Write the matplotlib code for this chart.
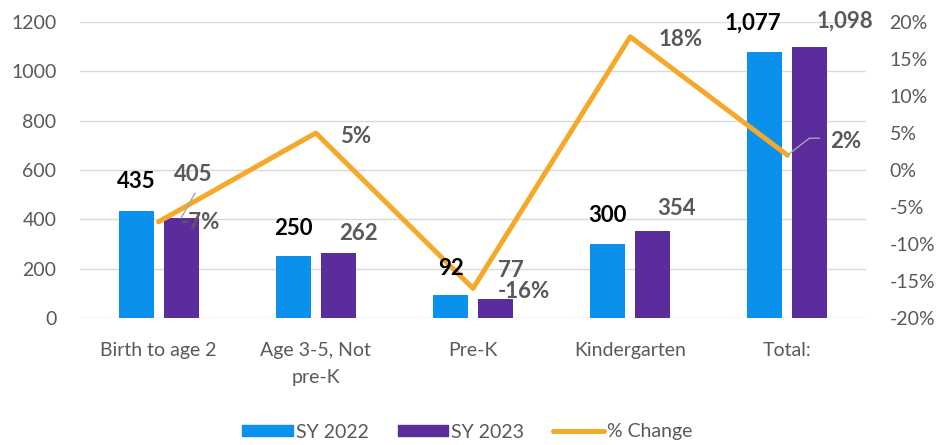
import matplotlib
matplotlib.use("Agg")
import matplotlib.pyplot as plt
from matplotlib.patches import Patch
from matplotlib.lines import Line2D
from matplotlib.transforms import offset_copy
import numpy as np

plt.rcParams['font.family'] = ['Lato', 'DejaVu Sans']

categories = ["Birth to age 2", "Age 3-5, Not\npre-K", "Pre-K", "Kindergarten", "Total:"]
sy2022 = [435, 250, 92, 300, 1077]
sy2023 = [405, 262, 77, 354, 1098]
pct_change = [-0.07, 0.05, -0.16, 0.18, 0.02]
labels_2022 = ["435", "250", "92", "300", "1,077"]
labels_2023 = ["405", "262", "77", "354", "1,098"]
labels_pct = ["-7%", "5%", "-16%", "18%", "2%"]
left_ticks = [0, 200, 400, 600, 800, 1000, 1200]
right_ticks = [-0.20, -0.15, -0.10, -0.05, 0.0, 0.05, 0.10, 0.15, 0.20]

# styling / label placement (pixel offsets)
c_blue = "#0A91EE"
c_purple = "#5B2C9C"
c_orange = "#F5A92B"
c_gray = "#595959"
off_2022 = [(0, 29), (0, 28), (0, 27), (0, 28), (-12, 29)]
off_2023 = [(12, 44), (20, 20), (15, 29), (24, 22), (35, 26)]
off_pct = [(42, -1), (40, -4), (51, -3), (50, -3), (58, 14)]

fig = plt.figure(figsize=(9.42, 4.45), dpi=100)
ax = fig.add_axes([80/942, 1-318/445, 786/942, 296/445])
ax2 = ax.twinx()

x = np.arange(len(categories))
w = 0.223
d = 0.143
ax.bar(x - d, sy2022, width=w, color=c_blue, zorder=2)
ax.bar(x + d, sy2023, width=w, color=c_purple, zorder=2)

ax.set_xlim(-0.5, len(categories) - 0.5)
ax.set_ylim(0, 1200)
ax.set_yticks(left_ticks)
ax.set_yticklabels([str(t) for t in left_ticks])
ax.grid(axis='y', color='#D9D9D9', lw=1, zorder=0)
ax.set_axisbelow(True)
ax.set_xticks(x)
ax.set_xticklabels(categories, linespacing=1.75)
ax.tick_params(axis='y', length=0, pad=17, labelsize=14, labelcolor=c_gray)
ax.tick_params(axis='x', length=0, pad=17, labelsize=14, labelcolor=c_gray)
for s in ax.spines.values():
    s.set_visible(False)

ax2.plot(x, pct_change, color=c_orange, lw=3.6, solid_joinstyle='round', solid_capstyle='round', zorder=3)
ax2.set_ylim(-0.2, 0.2)
ax2.set_yticks(right_ticks)
ax2.set_yticklabels([f"{round(t*100)}%" for t in right_ticks])
ax2.tick_params(axis='y', length=0, pad=17, labelsize=14, labelcolor=c_gray)
for s in ax2.spines.values():
    s.set_visible(False)

for i in range(len(categories)):
    ax2.annotate(labels_2022[i], xy=(x[i] - d, sy2022[i]), xycoords=ax.transData,
                 xytext=off_2022[i], textcoords='offset pixels', ha='center', va='center',
                 fontsize=16, fontweight='bold', color='black', zorder=5)
    ax2.annotate(labels_2023[i], xy=(x[i] + d, sy2023[i]), xycoords=ax.transData,
                 xytext=off_2023[i], textcoords='offset pixels', ha='center', va='center',
                 fontsize=16, fontweight='bold', color=c_gray, zorder=5)
    ax2.annotate(labels_pct[i], xy=(x[i], pct_change[i]),
                 xytext=off_pct[i], textcoords='offset pixels', ha='center', va='center',
                 fontsize=16, fontweight='bold', color=c_gray, zorder=5)

# leader lines
lead = dict(arrowstyle='-', color='#A6A6A6', lw=1, shrinkA=0, shrinkB=0)
ax2.annotate('', xy=(x[0] + d, sy2023[0]), xycoords=ax.transData,
             xytext=(14, 25), textcoords='offset pixels', arrowprops=lead)
ax2.annotate('', xy=(x[4], pct_change[4]), xytext=(22, 17), textcoords='offset pixels', arrowprops=lead)
ax2.annotate('', xy=(x[4], pct_change[4]),
             xycoords=offset_copy(ax2.transData, fig=fig, x=22, y=17, units='dots'),
             xytext=(10, 0), textcoords='offset pixels', arrowprops=lead)

handles = [Patch(color=c_blue), Patch(color=c_purple),
           Line2D([0], [0], color=c_orange, lw=3.6, solid_capstyle='round')]
fig.legend(handles, ["SY 2022", "SY 2023", "% Change"], loc='center',
           bbox_to_anchor=(0.496, 1 - 432/445), ncol=3, frameon=False,
           fontsize=14, labelcolor=c_gray, handlelength=2.6, handleheight=0.5,
           handletextpad=0.15, columnspacing=1.5)

fig.savefig("out.png", dpi=100)
